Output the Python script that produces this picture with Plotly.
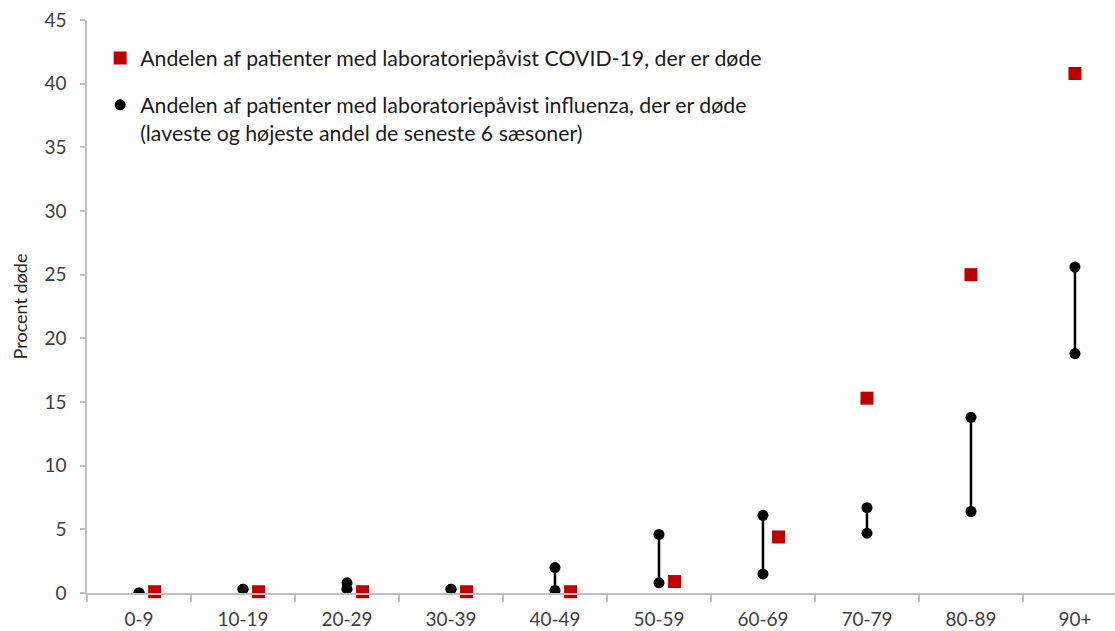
import plotly.graph_objects as go

# ---- data ----
age_groups = ["0-9", "10-19", "20-29", "30-39", "40-49", "50-59", "60-69", "70-79", "80-89", "90+"]
covid_pct = [0.1, 0.1, 0.1, 0.1, 0.1, 0.9, 4.4, 15.3, 25.0, 40.8]
flu_low_pct = [0.0, 0.3, 0.3, 0.3, 0.2, 0.8, 1.5, 4.7, 6.4, 18.8]
flu_high_pct = [0.0, 0.3, 0.8, 0.3, 2.0, 4.6, 6.1, 6.7, 13.8, 25.6]
# horizontal dodge of the COVID marker (in category units) where it would overlap the flu range
covid_dodge = [0.15, 0.15, 0.15, 0.15, 0.15, 0.15, 0.15, 0.0, 0.0, 0.0]
y_ticks = [0, 5, 10, 15, 20, 25, 30, 35, 40, 45]

FONT = "Lato"
GREY = "#404040"
AXIS = "#bfbfbf"

idx = list(range(len(age_groups)))

# vertical lines between lowest and highest flu share
lx, ly = [], []
for i, lo, hi in zip(idx, flu_low_pct, flu_high_pct):
    lx += [i, i, None]
    ly += [lo, hi, None]

fig = go.Figure()

fig.add_trace(go.Scatter(
    x=lx, y=ly, mode="lines",
    line=dict(color="black", width=2.5),
    showlegend=False, hoverinfo="skip",
))

fig.add_trace(go.Scatter(
    x=idx + idx, y=flu_low_pct + flu_high_pct, mode="markers",
    marker=dict(symbol="circle", size=11, color="black"),
    name="Andelen af patienter med laboratoriepåvist influenza, der er døde<br>(laveste og højeste andel de seneste 6 sæsoner)",
    legendgroup="flu", legendrank=2,
))

fig.add_trace(go.Scatter(
    x=[i + d for i, d in zip(idx, covid_dodge)], y=covid_pct, mode="markers",
    marker=dict(symbol="square", size=13, color="#c00000"),
    name="Andelen af patienter med laboratoriepåvist COVID-19, der er døde",
    cliponaxis=False, legendgroup="covid", legendrank=1,
))

fig.update_layout(
    width=1115, height=631,
    margin=dict(l=87, r=0, t=20, b=38, autoexpand=False),
    paper_bgcolor="white", plot_bgcolor="white",
    font=dict(family=FONT, color=GREY, size=19),
    legend=dict(
        x=0.0128, y=0.969, xanchor="left", yanchor="top",
        bgcolor="rgba(0,0,0,0)", valign="top",
        font=dict(family=FONT, size=21.3, color="#1a1a1a"),
        tracegroupgap=16, itemwidth=30,
    ),
    xaxis=dict(
        automargin=False,
        range=[-0.5, 9.385],
        tickmode="array", tickvals=idx, ticktext=age_groups,
        ticks="", showgrid=False, zeroline=False,
        showline=True, linecolor=AXIS, linewidth=2,
        tickfont=dict(family=FONT, size=19, color=GREY),
        ticklabelstandoff=8,
        minor=dict(tickmode="array", tickvals=[i - 0.5 for i in idx],
                   ticks="outside", ticklen=7, tickcolor=AXIS, tickwidth=1.5, showgrid=False),
    ),
    yaxis=dict(
        automargin=False,
        range=[0, 45],
        tickmode="array", tickvals=y_ticks,
        ticks="outside", ticklen=5, tickcolor=AXIS, tickwidth=1.5,
        showgrid=False, zeroline=False,
        showline=True, linecolor=AXIS, linewidth=1.5,
        tickfont=dict(family=FONT, size=19, color=GREY),
        ticklabelstandoff=10,
        title=dict(text="Procent døde", font=dict(family=FONT, size=18, color="#262626"), standoff=12),
    ),
)

fig.write_html(
    "out.html",
    config={"displayModeBar": False},
    post_script="document.body.style.margin='0';document.body.style.overflow='hidden';",
)
